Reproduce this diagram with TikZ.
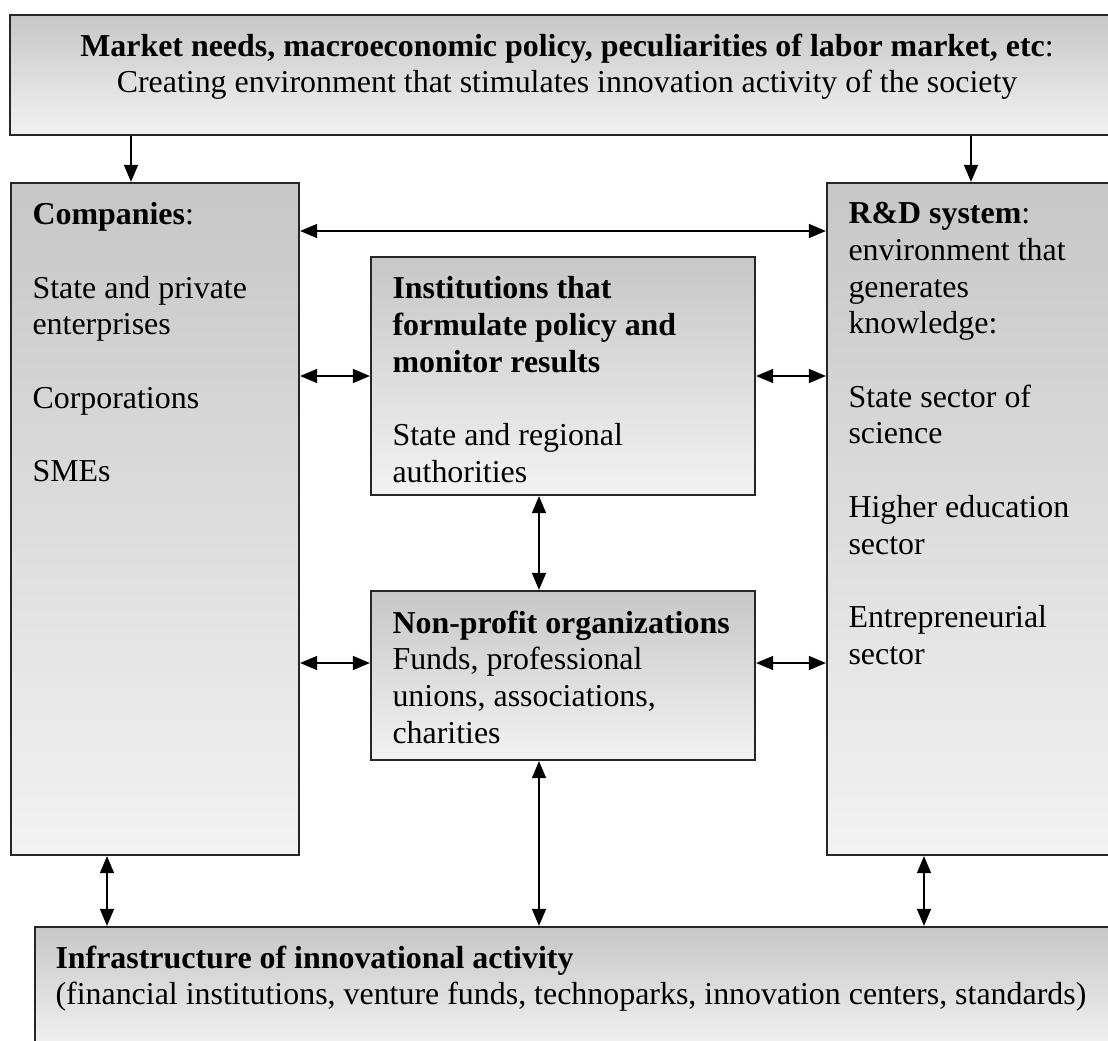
\documentclass[tikz,border=0pt]{standalone}
\usepackage{fontspec}
\setmainfont{Liberation Serif}
\usetikzlibrary{arrows.meta, positioning, calc, fit}
\definecolor{BoxTop}{gray}{0.78}
\definecolor{BoxBottom}{gray}{0.95}
\definecolor{EdgeGray}{gray}{0.15}

\begin{document}
\begin{tikzpicture}[x=0.376pt, y=-0.376pt,
    blk/.style={draw=EdgeGray, line width=0.8pt, top color=BoxTop,
                bottom color=BoxBottom, inner sep=0pt},
    txt/.style={anchor=north west, align=left, inner sep=0pt,
                font=\fontsize{12}{13.8}\selectfont},
    arr/.style={-{Triangle[length=6.4pt,width=5.2pt]}, line width=0.75pt},
    dbl/.style={{Triangle[length=6.4pt,width=5.2pt]}-{Triangle[length=6.4pt,width=5.2pt]},
                line width=0.75pt}
  ]
    \useasboundingbox (0,0) rectangle (1108,1041);
    \clip (0,0) rectangle (1108,1041);

    % boxes
    \node[blk, fit={(10,15) (1120,135)}] (mkt) {};
    \node[blk, fit={(11,183) (299,855)}] (comp) {};
    \node[blk, fit={(827,183) (1120,855)}] (rd) {};
    \node[blk, fit={(371,257) (755,495)}] (inst) {};
    \node[blk, fit={(371,591) (755,760)}] (np) {};
    \node[blk, fit={(35,927) (1120,1050)}] (infra) {};

    % texts
    \node[txt, anchor=north, align=center] (mktT) at (567,33)
      {\textbf{Market needs, macroeconomic policy, peculiarities of labor market, etc}:\\
       Creating environment that stimulates innovation activity of the society};
    \node[txt] (compT) at (32,202)
      {\textbf{Companies}:\\[13.8pt]
       State and private\\enterprises\\[13.8pt]
       Corporations\\[13.8pt]
       SMEs};
    \node[txt] (rdT) at (848,202)
      {\textbf{R\&D system}:\\environment that\\generates\\knowledge:\\[13.8pt]
       State sector of\\science\\[13.8pt]
       Higher education\\sector\\[13.8pt]
       Entrepreneurial\\sector};
    \node[txt] (instT) at (392,276)
      {\textbf{Institutions that}\\\textbf{formulate policy and}\\\textbf{monitor results}\\[13.8pt]
       State and regional\\authorities};
    \node[txt] (npT) at (392,610)
      {\textbf{Non-profit organizations}\\Funds, professional\\unions, associations,\\charities};
    \node[txt] (infraT) at (55,945)
      {\textbf{Infrastructure of innovational activity}\\
       (financial institutions, venture funds, technoparks, innovation centers, standards)};

    % arrow positions
    \coordinate (xl) at (131,0);
    \coordinate (xr) at (971,0);
    \coordinate (xm) at (539,0);
    \coordinate (xbl) at (107,0);
    \coordinate (xbr) at (924,0);
    \coordinate (yt) at (0,231);
    \coordinate (yn) at (0,663);

    \draw[arr] (mkt.south -| xl) -- (comp.north -| xl);
    \draw[arr] (mkt.south -| xr) -- (rd.north -| xr);
    \draw[dbl] (comp.east |- yt) -- (rd.west |- yt);
    \draw[dbl] (comp.east |- inst.west) -- (inst.west);
    \draw[dbl] (inst.east) -- (rd.west |- inst.east);
    \draw[dbl] (comp.east |- yn) -- (np.west |- yn);
    \draw[dbl] (np.east |- yn) -- (rd.west |- yn);
    \draw[dbl] (inst.south -| xm) -- (np.north -| xm);
    \draw[dbl] (np.south -| xm) -- (infra.north -| xm);
    \draw[dbl] (comp.south -| xbl) -- (infra.north -| xbl);
    \draw[dbl] (rd.south -| xbr) -- (infra.north -| xbr);
  \end{tikzpicture}
\end{document}
